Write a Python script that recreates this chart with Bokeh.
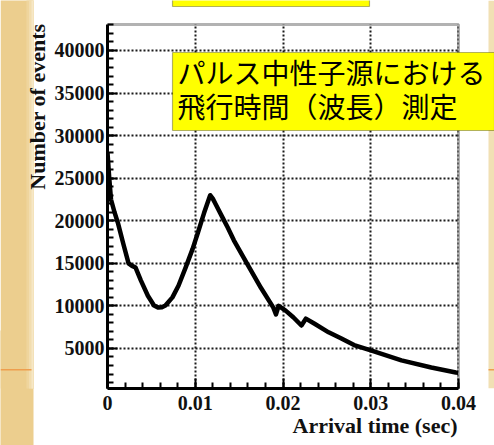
import math
from bokeh.plotting import figure
from bokeh.layouts import row
from bokeh.models import Label, BoxAnnotation, FixedTicker, Title
from bokeh.embed import file_html
from bokeh.resources import INLINE

# ---- data ----
time_s = [0.0000, 0.0002, 0.0004, 0.0008, 0.0012, 0.0018, 0.0024, 0.0028, 0.0032,
          0.0038, 0.0046, 0.0053, 0.0058, 0.0062, 0.0066, 0.0074, 0.0081, 0.0089,
          0.0097, 0.0103, 0.0110, 0.0117, 0.0120, 0.0123, 0.0131, 0.0137, 0.0144,
          0.0160, 0.0175, 0.0189, 0.0192, 0.0195, 0.0203, 0.0212, 0.0221, 0.0226,
          0.0236, 0.0252, 0.0266, 0.0281, 0.0301, 0.0335, 0.0369, 0.0397, 0.0400]
events = [28000, 25000, 22500, 21000, 19700, 17300, 15000, 14700, 14500,
          13000, 11200, 10050, 9800, 9850, 10050, 11000, 12400, 14500,
          16700, 18600, 20900, 23000, 22600, 22000, 20400, 19200, 17700,
          14800, 12100, 9800, 9000, 10000, 9450, 8640, 7700, 8500,
          7900, 6900, 6200, 5400, 4750, 3600, 2770, 2180, 2150]

x_ticks = [0, 0.01, 0.02, 0.03, 0.04]
x_tick_labels = ["0", "0.01", "0.02", "0.03", "0.04"]
y_ticks = [5000, 10000, 15000, 20000, 25000, 30000, 35000, 40000]
y_tick_labels = ["5000", "10000", "15000", "20000", "25000", "30000", "35000", "40000"]

x_title = "Arrival time (sec)"
y_title = "Number of events"
note_line1 = "パルス中性子源における"
note_line2 = "飛行時間（波長）測定"

# ---- geometry (page pixels) ----
PW, PH = 494, 445
STRIP = 50                            # width of the left decorative panel
X0, X1 = 0.0, 0.04
Y0, Y1 = 300.0, 43050.0
FL, FR, FT, FB = 107, 458, 24, 388   # plot box edges in page pixels
KX = (X1 - X0) / (FR - FL)
KY = (Y1 - Y0) / (FB - FT)


def dx(px):
    return X0 + (px - FL) * KX


def dy(py):
    return Y0 + (FB - py) * KY


def sy(py):
    # strip panel frame spans page rows 0..FB, data y measured upwards
    return FB - py


SERIF = "Liberation Serif"
GOLD = "#ECCE8E"

# ---------------- left decorative panel (gold strip + y title) ----------------
strip = figure(width=STRIP, height=PH, x_range=(0, STRIP), y_range=(0, FB),
               output_backend="svg", toolbar_location=None,
               y_axis_location=None, min_border_left=0, min_border_right=0,
               min_border_top=0, min_border_bottom=PH - FB)
strip.outline_line_color = None
strip.background_fill_color = "white"
strip.border_fill_color = "white"
strip.grid.visible = False
# the strip's own (label-less) axis paints the gold band below its frame
sax = strip.xaxis[0]
sax.bounds = (0, 33)
sax.axis_line_color = GOLD
sax.axis_line_width = 2 * (PH - FB) + 2
sax.axis_line_cap = "butt"
sax.major_tick_line_color = None
sax.minor_tick_line_color = None
sax.major_label_text_alpha = 0
sax.major_label_text_font_size = "1px"

grad = [GOLD, "#EFD59D", "#F2DDAF", "#F6E7C6"]
gx = [0, 26, 28.5, 31]
for i, c in enumerate(grad):
    strip.add_layout(BoxAnnotation(left=gx[i], right=33, top=sy(-2), bottom=sy(FB + 2),
                                   fill_color=c, fill_alpha=1.0, line_alpha=0))
strip.add_layout(BoxAnnotation(left=0, right=31, top=sy(368.5), bottom=sy(370),
                               fill_color="#EE9E4E", fill_alpha=1.0, line_alpha=0))
strip.add_layout(Label(x=37, y=sy(23), text=y_title, angle=math.pi / 2,
                       text_align="right", text_baseline="middle",
                       text_font=SERIF, text_font_style="bold",
                       text_font_size="22px", text_color="#111111"))

# ---------------- main plot ----------------
p = figure(width=PW - STRIP, height=PH,
           x_range=(X0, dx(PW)), y_range=(Y0, dy(0)),
           output_backend="svg", toolbar_location=None,
           min_border_left=FL - STRIP, min_border_right=0,
           min_border_top=0, min_border_bottom=PH - FB)
p.background_fill_color = "white"
p.border_fill_color = "white"
p.outline_line_color = None

for ax in (p.xaxis[0], p.yaxis[0]):
    ax.axis_line_width = 3
    ax.axis_line_color = "black"
    ax.major_tick_in = 10
    ax.major_tick_out = 0
    ax.minor_tick_in = 6
    ax.minor_tick_out = 0
    ax.major_tick_line_width = 2
    ax.minor_tick_line_width = 2
    ax.major_tick_line_color = "black"
    ax.minor_tick_line_color = "black"
    ax.major_label_text_font = SERIF
    ax.major_label_text_font_style = "bold"
    ax.major_label_text_font_size = "20px"
    ax.major_label_text_color = "#111111"

x_minor = [round(i * 0.002, 4) for i in range(21)]
y_minor = [i * 1000 for i in range(1, 44)]
p.xaxis.ticker = FixedTicker(ticks=x_ticks, minor_ticks=x_minor)
p.yaxis.ticker = FixedTicker(ticks=y_ticks, minor_ticks=y_minor)
p.xaxis.major_label_overrides = dict(zip(x_ticks, x_tick_labels))
p.yaxis.major_label_overrides = dict(zip(y_ticks, y_tick_labels))
p.xaxis.bounds = (X0, X1)
p.yaxis.bounds = (Y0, Y1)
p.xaxis.major_label_standoff = 7
p.yaxis.major_label_standoff = 3

for g in (p.xgrid[0], p.ygrid[0]):
    g.grid_line_color = "#1a1a1a"
    g.grid_line_width = 2
    g.grid_line_dash = "2 2"
    g.grid_line_alpha = 1.0

# hide grid outside the plot box
p.add_layout(BoxAnnotation(bottom=Y1, fill_color="white", fill_alpha=1.0,
                           line_alpha=0, level="glyph"))
p.add_layout(BoxAnnotation(left=X1, fill_color="white", fill_alpha=1.0,
                           line_alpha=0, level="glyph"))
# beige slide edge on the right
p.add_layout(BoxAnnotation(left=dx(488), fill_color="#F1E0B4", fill_alpha=1.0,
                           line_alpha=0, level="glyph"))
p.add_layout(BoxAnnotation(left=dx(488), bottom=dy(370), top=dy(368.5),
                           fill_color="#EE9E4E", fill_alpha=1.0, line_alpha=0,
                           level="glyph"))

# curve
p.line(time_s, events, line_width=4.5, line_color="black", line_join="round")

# plot box
p.add_layout(BoxAnnotation(left=X0, right=X1, bottom=Y0, top=Y1, fill_alpha=0,
                           line_color="black", line_width=3, level="annotation"))

# x title, right aligned under the axis
p.add_layout(Title(text=x_title, align="right", offset=PW - FR + 1,
                   text_font=SERIF, text_font_style="bold", text_font_size="22px",
                   text_color="#111111", standoff=0, vertical_align="top"), "below")

# yellow boxes
p.add_layout(BoxAnnotation(left=dx(172), right=dx(369), top=dy(-2), bottom=dy(6),
                           fill_color="#FFFF00", fill_alpha=1.0, line_color="black",
                           line_width=1.2, level="annotation"))
p.add_layout(BoxAnnotation(left=dx(172), top=dy(52), bottom=dy(130),
                           fill_color="#FFFF00", fill_alpha=1.0, line_color="black",
                           line_width=1.2, level="annotation"))
p.add_layout(Label(x=dx(177), y=dy(71), text=note_line1, text_align="left",
                   text_baseline="middle", text_font="Noto Sans CJK JP",
                   text_font_size="28px", text_color="black"))
p.add_layout(Label(x=dx(177), y=dy(105), text=note_line2, text_align="left",
                   text_baseline="middle", text_font="Noto Sans CJK JP",
                   text_font_size="28px", text_color="black"))

layout = row(strip, p)
open("out.html", "w").write(file_html(layout, INLINE))
